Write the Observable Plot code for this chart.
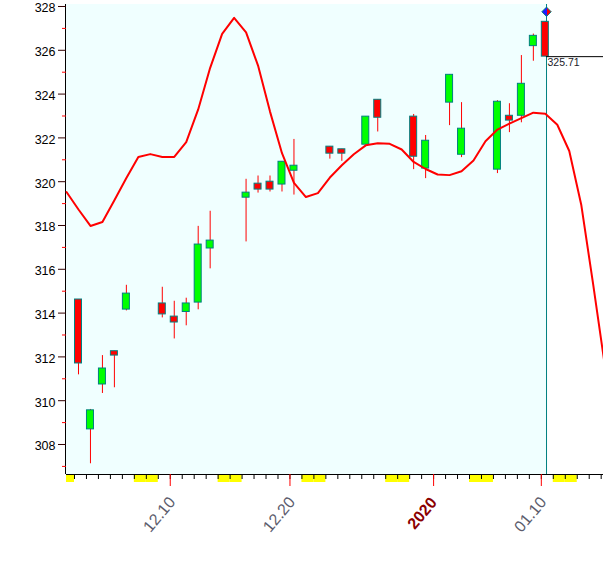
<!DOCTYPE html>
<html><head><meta charset="utf-8">
<script src="https://cdn.jsdelivr.net/npm/d3@7"></script>
<script src="https://cdn.jsdelivr.net/npm/@observablehq/plot@0.6"></script>
<style>html,body{margin:0;padding:0;background:#fff}svg{display:block}</style>
</head><body><div id="chart"></div>
<script>
// ---- data ----
const dates = ["2019-12-02","2019-12-03","2019-12-04","2019-12-05","2019-12-06",
  "2019-12-09","2019-12-10","2019-12-11","2019-12-12","2019-12-13",
  "2019-12-16","2019-12-17","2019-12-18","2019-12-19","2019-12-20",
  "2019-12-23","2019-12-24","2019-12-26","2019-12-27","2019-12-30","2019-12-31",
  "2020-01-02","2020-01-03","2020-01-06","2020-01-07","2020-01-08","2020-01-09","2020-01-10"];
const open  = [314.62,308.69,310.74,312.26,314.16, 314.44,313.84,314.05,314.48,316.95, 319.27,319.91,320.00,319.87,320.50, 321.60,321.48,321.69,323.74,322.97,320.60, 323.61,321.23,320.55,323.01,323.01,326.19,327.30];
const close = [311.70,309.56,311.47,312.06,314.89, 313.94,313.57,314.44,317.13,317.31, 319.50,319.64,319.64,320.91,320.73, 321.28,321.28,322.97,322.92,321.14,321.87, 324.88,322.42,323.65,322.79,324.47,326.66,325.71];
const high  = [314.62,309.60,312.06,312.26,315.27, 315.18,314.54,314.68,317.96,318.65, 320.11,320.26,320.26,320.91,321.93, 321.60,321.48,322.97,323.74,323.07,322.11, 324.88,323.61,323.70,323.56,325.76,326.74,327.30];
const low   = [311.18,307.12,310.33,310.59,314.10, 313.78,312.82,313.42,314.15,316.02, 317.25,319.48,319.53,319.53,319.39, 321.03,320.93,321.69,322.27,320.55,320.14, 322.56,321.10,320.37,322.24,322.69,325.50,325.71];

// smooth red line, one value per calendar day from 2019-12-01 to 2020-01-15
const curveStart = "2019-12-01", curveEnd = "2020-01-16";
const curveValues = [319.53,318.73,317.98,318.16,319.15,320.17,321.13,321.26,321.13,321.13,
  321.81,323.30,325.20,326.75,327.48,326.82,325.30,323.20,321.30,319.95,
  319.30,319.48,320.19,320.75,321.25,321.66,321.76,321.73,321.47,320.90,
  320.58,320.33,320.30,320.48,320.97,321.85,322.38,322.65,322.90,323.15,
  323.10,322.60,321.40,318.95,315.30,311.50];

const weekendDays = ["2019-12-01","2019-12-07","2019-12-08","2019-12-14","2019-12-15",
  "2019-12-21","2019-12-22","2019-12-28","2019-12-29","2020-01-04","2020-01-05","2020-01-11","2020-01-12"];

const xTickDates  = ["2019-12-10","2019-12-20","2020-01-01","2020-01-10"];
const xTickLabels = ["12.10","12.20","2020","01.10"];
const xTickBold   = [false,false,true,false];

const yTickValues = [308,310,312,314,316,318,320,322,324,326,328];
const yTickLabels = ["308","310","312","314","316","318","320","322","324","326","328"];
const yMinorTicks = [307,309,311,313,315,317,319,321,323,325,327];

const markerValue = 327.76;

// ---- derived ----
const parse = d3.utcParse("%Y-%m-%d");
const DAY = 864e5;
const day0 = parse("2019-12-02");
const xDomain = [new Date(+day0 - 0.668*DAY), new Date(+day0 + 44.194*DAY)];
const yDomain = [306.63, 328.091];
const bodyL = 0.042, bodyR = 0.627, mid = 0.334, cursorOff = 0.434;
const shift = (d, k) => new Date(+d + k*DAY);

const candles = dates.map((d,i) => ({date: parse(d), open: open[i], close: close[i], high: high[i], low: low[i]}));
const curve = d3.utcDay.range(parse(curveStart), parse(curveEnd)).map((d,i) => ({date: d, v: curveValues[i]}));
const tickDays = d3.utcDay.range(day0, parse("2020-01-16"));
const weekends = weekendDays.map(d => ({x1: new Date(Math.max(+parse(d), +xDomain[0])), x2: shift(parse(d), 1)}));
const xLabels = xTickDates.map((d,i) => ({date: parse(d), label: xTickLabels[i], bold: xTickBold[i]}));
const yLabels = yTickValues.map((v,i) => ({v, label: yTickLabels[i]}));
const last = candles[candles.length-1];
const cursorX = shift(last.date, cursorOff);

const chart = Plot.plot({
  width: 603, height: 567,
  marginLeft: 66, marginRight: 0, marginTop: 4, marginBottom: 93,
  style: {fontFamily: "'Liberation Sans', Arial, sans-serif", background: "#fff", overflow: "visible"},
  x: {type: "utc", domain: xDomain},
  y: {domain: yDomain},
  color: {type: "identity"},
  marks: [
    Plot.rect([{x1: xDomain[0], x2: cursorX}], {x1: "x1", x2: "x2", fill: "#F0FFFF"}),
    Plot.rect(weekends, {x1: "x1", x2: "x2", fill: "#FFFF00", insetTop: 463, dy: 8}),
    Plot.ruleY([yDomain[0]], {stroke: "black"}),
    Plot.axisX({ticks: tickDays, tickSize: 5, tickFormat: () => "", stroke: "black", label: null}),
    Plot.axisX({ticks: xLabels.map(d => d.date), tickSize: 12, tickFormat: () => "", stroke: "red", label: null}),
    Plot.text(xLabels.filter(d => !d.bold), {x: "date", text: "label", frameAnchor: "bottom", rotate: -50, textAnchor: "end", dx: 6, dy: 28, fontSize: 16, fill: "#5c5c6c"}),
    Plot.text(xLabels.filter(d => d.bold), {x: "date", text: "label", frameAnchor: "bottom", rotate: -50, textAnchor: "end", dx: 4, dy: 28.5, fontSize: 16, fontWeight: "bold", fill: "#8b0000"}),
    Plot.ruleX([xDomain[0]], {stroke: "black", dx: -1}),
    Plot.axisY({ticks: yTickValues, tickSize: 8, tickFormat: () => "", stroke: "#300000", label: null}),
    Plot.axisY({ticks: yMinorTicks, tickSize: 4, tickFormat: () => "", stroke: "red", label: null}),
    Plot.text(yLabels, {y: "v", text: "label", frameAnchor: "left", textAnchor: "end", dx: -11, dy: 2, fontSize: 12.5, fill: "black"}),
    Plot.ruleX([cursorX], {stroke: "#008080"}),
    Plot.ruleX(candles, {x: d => shift(d.date, mid), y1: "low", y2: "high", stroke: "#FF0000"}),
    Plot.rect(candles, {x1: d => shift(d.date, bodyL), x2: d => shift(d.date, bodyR), y1: "open", y2: "close",
      fill: d => d.close >= d.open ? "#00FF00" : "#FF0000", stroke: "#008080", strokeWidth: 1}),
    Plot.line(curve, {x: d => shift(d.date, mid), y: "v", stroke: "#FF0000", strokeWidth: 2}),
    Plot.ruleY([last.close], {x1: cursorX, x2: xDomain[1], stroke: "black"}),
    Plot.text([last.close], {x: cursorX, y: d => d, text: d => d.toFixed(2), textAnchor: "start", lineAnchor: "top", dx: 1, dy: 2, fontSize: 10.5, fill: "#1a1a2a"}),
    Plot.dot([markerValue], {x: cursorX, y: d => d, symbol: "diamond2", r: 4.2, fill: "url(#halfgrad)", stroke: "#008080", strokeWidth: 1})
  ]
});

const svgEl = chart.tagName.toLowerCase() === "svg" ? chart : chart.querySelector("svg");
const grad = d3.select(svgEl).insert("defs", ":first-child").append("linearGradient")
  .attr("id", "halfgrad").attr("x1", 0).attr("x2", 1).attr("y1", 0).attr("y2", 0);
grad.append("stop").attr("offset", 0.5).attr("stop-color", "#1e1eff");
grad.append("stop").attr("offset", 0.5).attr("stop-color", "#ff0000");

document.getElementById("chart").appendChild(chart);
</script>
</body></html>
